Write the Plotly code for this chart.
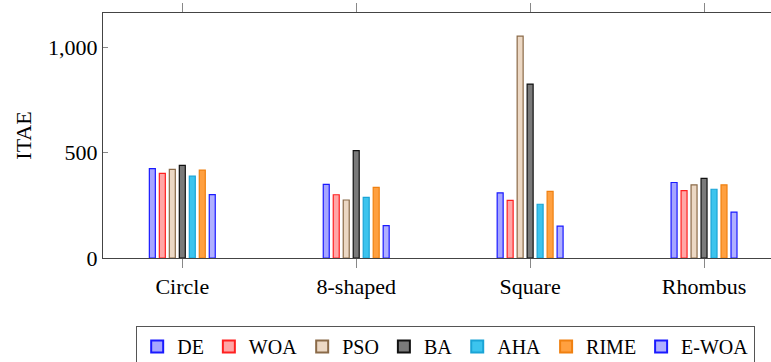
import plotly.graph_objects as go

categories = ["Circle", "8-shaped", "Square", "Rhombus"]
series_names = ["DE", "WOA", "PSO", "BA", "AHA", "RIME", "E-WOA"]
DE = [424, 349, 309, 358]
WOA = [401, 300, 273, 320]
PSO = [420, 275, 1052, 347]
BA = [439, 509, 825, 378]
AHA = [388, 288, 255, 326]
RIME = [417, 335, 316, 347]
EWOA = [301, 154, 151, 218]
values = [DE, WOA, PSO, BA, AHA, RIME, EWOA]

fills = ["#a6a6ff", "#ffa6a6", "#ecd8c4", "#7a7a7a", "#3cc4ee", "#ffa040", "#b0b0ff"]
lines = ["#1a1aff", "#ff2020", "#8a6a48", "#111111", "#1aa4d6", "#f08010", "#1a1aff"]

FONT = "'Liberation Serif', 'Times New Roman', serif"

fig = go.Figure()
for name, vals, fc, lc in zip(series_names, values, fills, lines):
    fig.add_trace(go.Bar(
        x=categories, y=vals, name=name,
        marker=dict(color=fc, line=dict(color=lc, width=1.2)),
    ))

fig.update_layout(
    width=771, height=362,
    margin=dict(l=103, r=0, t=13, b=103.5, autoexpand=False),
    paper_bgcolor="white", plot_bgcolor="white",
    barmode="group", bargap=0.598, bargroupgap=0.4,
    font=dict(family=FONT, size=21, color="black"),
    showlegend=True,
    legend=dict(
        orientation="h", x=0.513, xanchor="center", y=-0.278, yanchor="top",
        bordercolor="#555555", borderwidth=1, bgcolor="white",
        font=dict(family=FONT, size=20), itemwidth=30,
        tracegroupgap=0, itemsizing="constant",
    ),
)

fig.update_xaxes(
    range=[-0.456, 3.385], showline=True, linecolor="#444444", linewidth=1,
    mirror="ticks", ticks="outside", ticklen=9, tickcolor="#888888",
    showgrid=False, zeroline=False, ticklabelstandoff=0,
    tickfont=dict(family=FONT, size=22),
)
fig.update_yaxes(
    range=[0, 1162], showline=True, linecolor="#444444", linewidth=1,
    mirror=False, ticks="inside", ticklen=5, tickcolor="#888888",
    tickvals=[0, 500, 1000], ticktext=["0", "500", "1,000"],
    showgrid=False, zeroline=False,
    tickfont=dict(family=FONT, size=22),
    title=dict(text="ITAE", font=dict(family=FONT, size=22), standoff=10),
)

fig.write_html("out.html")
